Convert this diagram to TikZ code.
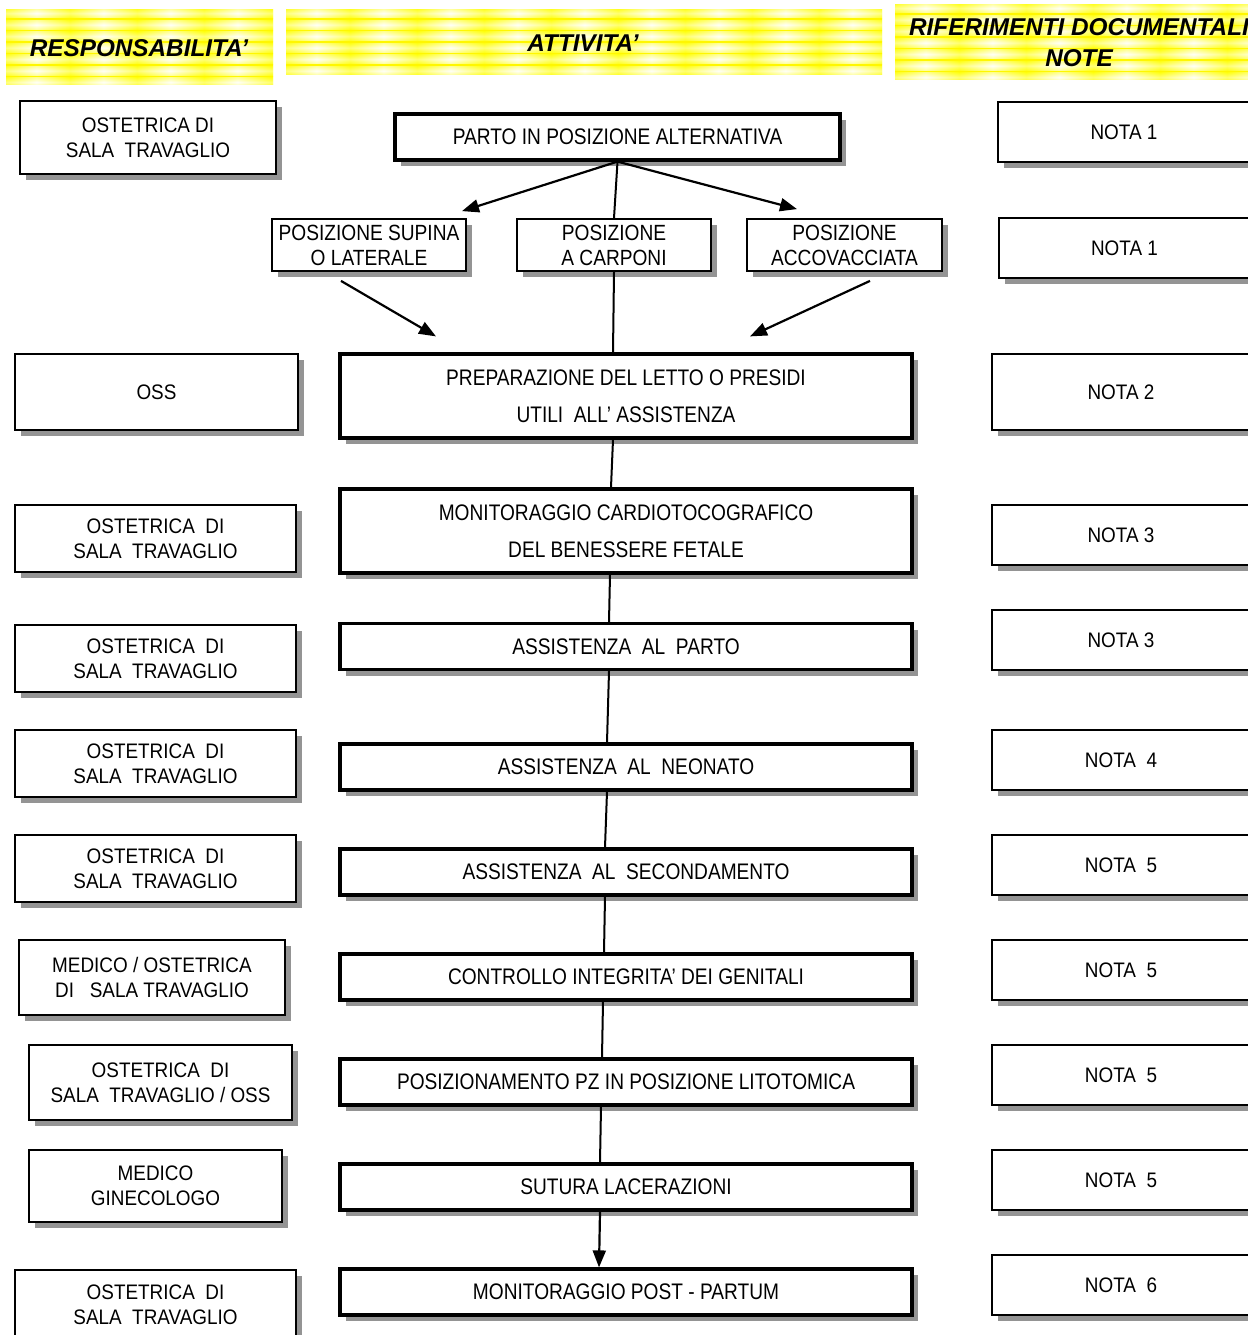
\documentclass[tikz,border=0pt]{standalone}
\usepackage{fontspec}
\setmainfont{Liberation Sans}
\newfontfamily\fsmall[FakeStretch=0.9]{Liberation Sans}
\newfontfamily\fmain[FakeStretch=0.85]{Liberation Sans}
\newfontfamily\fpos[FakeStretch=0.87]{Liberation Sans}
\newfontfamily\fhead{Liberation Sans}
\usetikzlibrary{arrows.meta,shadows}

\newcommand{\ybanner}[4]{%
 \begin{scope}
 \clip (#1,#2) rectangle (#3,#4);
 \fill[yellow!30] (#1,#2) rectangle (#3,#4);
 \foreach \k in {0,...,9}{%
   \shade[left color=yellow,right color=yellow,middle color=yellow!4] ({#1-3+67*\k},#2) rectangle ({#1+64+67*\k},#4);
 }
 \foreach \j in {0,...,7}{%
   \shade[top color=yellow,bottom color=yellow,middle color=white,opacity=0.45] (#1,{#2-2.5+11.5*\j}) rectangle (#3,{#2+9+11.5*\j});
   \draw[yellow,line width=1.4pt] (#1,{#2+9+11.5*\j}) -- (#3,{#2+9+11.5*\j});
 }
 \end{scope}}

\begin{document}
\begin{tikzpicture}[x=1pt,y=-1pt,
 shd/.style={drop shadow={shadow xshift=6pt,shadow yshift=-6pt,fill=black!42,opacity=1}},
 sbox/.style={draw,line width=1.8pt,fill=white,shd,inner sep=0pt,align=center,font=\fsmall\fontsize{21}{25}\selectfont},
 mbox/.style={draw,line width=3.2pt,fill=white,shd,inner sep=0pt,align=center,minimum width=572pt,minimum height=46pt,font=\fmain\fontsize{22.5}{37}\selectfont},
 pbox/.style={draw,line width=1.8pt,fill=white,shd,inner sep=0pt,align=center,minimum height=52pt,font=\fpos\fontsize{22}{25}\selectfont},
 nbox/.style={sbox,minimum width=258pt,minimum height=60pt},
 head/.style={inner sep=0pt,align=center,font=\fhead\bfseries\itshape\fontsize{24.3}{31}\selectfont},
 conn/.style={line width=2pt},
 arr/.style={line width=2.2pt,-{Triangle[length=17pt,width=13pt]}},
]
\useasboundingbox (0,0) rectangle (1247,1335);
\fill[white] (0,0) rectangle (1247,1335);

% headers
\ybanner{6}{10}{273}{85}
\ybanner{286}{10}{882}{75}
\ybanner{895}{5}{1250}{80}
\node[head] (hresp) at (139,48) {RESPONSABILITA’};
\node[head] (hatt) at (583,43) {ATTIVITA’};
\node[head] (hrif) at (1079,42.5) {RIFERIMENTI DOCUMENTALI\\NOTE};

% activities
\node[mbox,minimum width=445pt] (parto) at (617.5,137) {PARTO IN POSIZIONE ALTERNATIVA};
\node[pbox,minimum width=194pt] (sup) at (369,245) {POSIZIONE SUPINA\\O LATERALE};
\node[pbox,minimum width=194pt] (car) at (614,245) {POSIZIONE\\A CARPONI};
\node[pbox,minimum width=195pt] (acc) at (844.5,245) {POSIZIONE\\ACCOVACCIATA};
\node[mbox,minimum height=84pt] (prep) at (626,396) {PREPARAZIONE DEL LETTO O PRESIDI\\UTILI\ \ ALL’ ASSISTENZA};
\node[mbox,minimum height=84pt] (mon) at (626,531) {MONITORAGGIO CARDIOTOCOGRAFICO\\DEL BENESSERE FETALE};
\node[mbox] (ap) at (626,646.5) {ASSISTENZA\ \ AL\ \ PARTO};
\node[mbox] (an) at (626,767) {ASSISTENZA\ \ AL\ \ NEONATO};
\node[mbox] (as) at (626,872) {ASSISTENZA\ \ AL\ \ SECONDAMENTO};
\node[mbox] (cg) at (626,977) {CONTROLLO INTEGRITA’ DEI GENITALI};
\node[mbox] (pz) at (626,1082) {POSIZIONAMENTO PZ IN POSIZIONE LITOTOMICA};
\node[mbox] (sl) at (626,1187) {SUTURA LACERAZIONI};
\node[mbox] (mp) at (626,1292) {MONITORAGGIO POST - PARTUM};

% responsibilities
\node[sbox,minimum width=256pt,minimum height=73pt] (r1) at (148,137.5) {OSTETRICA DI\\SALA\ \ TRAVAGLIO};
\node[sbox,minimum width=283pt,minimum height=76pt] (r2) at (156.5,392) {OSS};
\node[sbox,minimum width=281pt,minimum height=67pt] (r3) at (155.5,538.5) {OSTETRICA\ \ DI\\SALA\ \ TRAVAGLIO};
\node[sbox,minimum width=281pt,minimum height=67pt] (r4) at (155.5,658.5) {OSTETRICA\ \ DI\\SALA\ \ TRAVAGLIO};
\node[sbox,minimum width=281pt,minimum height=67pt] (r5) at (155.5,763.5) {OSTETRICA\ \ DI\\SALA\ \ TRAVAGLIO};
\node[sbox,minimum width=281pt,minimum height=67pt] (r6) at (155.5,868.5) {OSTETRICA\ \ DI\\SALA\ \ TRAVAGLIO};
\node[sbox,minimum width=266pt,minimum height=75pt] (r7) at (152,977.5) {MEDICO / OSTETRICA\\DI\ \ \ SALA TRAVAGLIO};
\node[sbox,minimum width=263pt,minimum height=75pt] (r8) at (160.5,1082.5) {OSTETRICA\ \ DI\\SALA\ \ TRAVAGLIO / OSS};
\node[sbox,minimum width=253pt,minimum height=72pt] (r9) at (155.5,1186) {MEDICO\\GINECOLOGO};
\node[sbox,minimum width=281pt,minimum height=70pt] (r10) at (155.5,1305) {OSTETRICA\ \ DI\\SALA\ \ TRAVAGLIO};

% notes
\node[nbox,minimum width=252pt] (n1) at (1124,132) {NOTA 1};
\node[nbox,minimum width=251pt] (n2) at (1124.5,248) {NOTA 1};
\node[nbox,minimum height=76pt] (n3) at (1121,392) {NOTA 2};
\node[nbox] (n4) at (1121,535) {NOTA 3};
\node[nbox] (n5) at (1121,640) {NOTA 3};
\node[nbox] (n6) at (1121,760) {NOTA\ \ 4};
\node[nbox] (n7) at (1121,865) {NOTA\ \ 5};
\node[nbox] (n8) at (1121,970) {NOTA\ \ 5};
\node[nbox] (n9) at (1121,1075) {NOTA\ \ 5};
\node[nbox] (n10) at (1121,1180) {NOTA\ \ 5};
\node[nbox] (n11) at (1121,1285) {NOTA\ \ 6};

% connectors
\draw[arr] (parto.south) -- ([xshift=93pt,yshift=7pt]sup.north);
\draw[arr] (parto.south) -- ([xshift=-47.5pt,yshift=9pt]acc.north);
\draw[conn] (parto.south) -- (car.north);
\draw[conn] (car.south) -- ([xshift=-13pt]prep.north);
\draw[arr] ([xshift=-28pt,yshift=-9pt]sup.south) -- ([xshift=-190pt,yshift=16pt]prep.north);
\draw[arr] ([xshift=25.5pt,yshift=-9pt]acc.south) -- ([xshift=124pt,yshift=16pt]prep.north);
\draw[conn] ([xshift=-13pt]prep.south) -- ([xshift=-15pt]mon.north);
\draw[conn] ([xshift=-16pt]mon.south) -- ([xshift=-17pt]ap.north);
\draw[conn] ([xshift=-17pt]ap.south) -- ([xshift=-19pt]an.north);
\draw[conn] ([xshift=-19pt]an.south) -- ([xshift=-21pt]as.north);
\draw[conn] ([xshift=-21pt]as.south) -- ([xshift=-22pt]cg.north);
\draw[conn] ([xshift=-23pt]cg.south) -- ([xshift=-24pt]pz.north);
\draw[conn] ([xshift=-25pt]pz.south) -- ([xshift=-26pt]sl.north);
\draw[arr] ([xshift=-26pt]sl.south) -- ([xshift=-27pt]mp.north);
\end{tikzpicture}
\end{document}
